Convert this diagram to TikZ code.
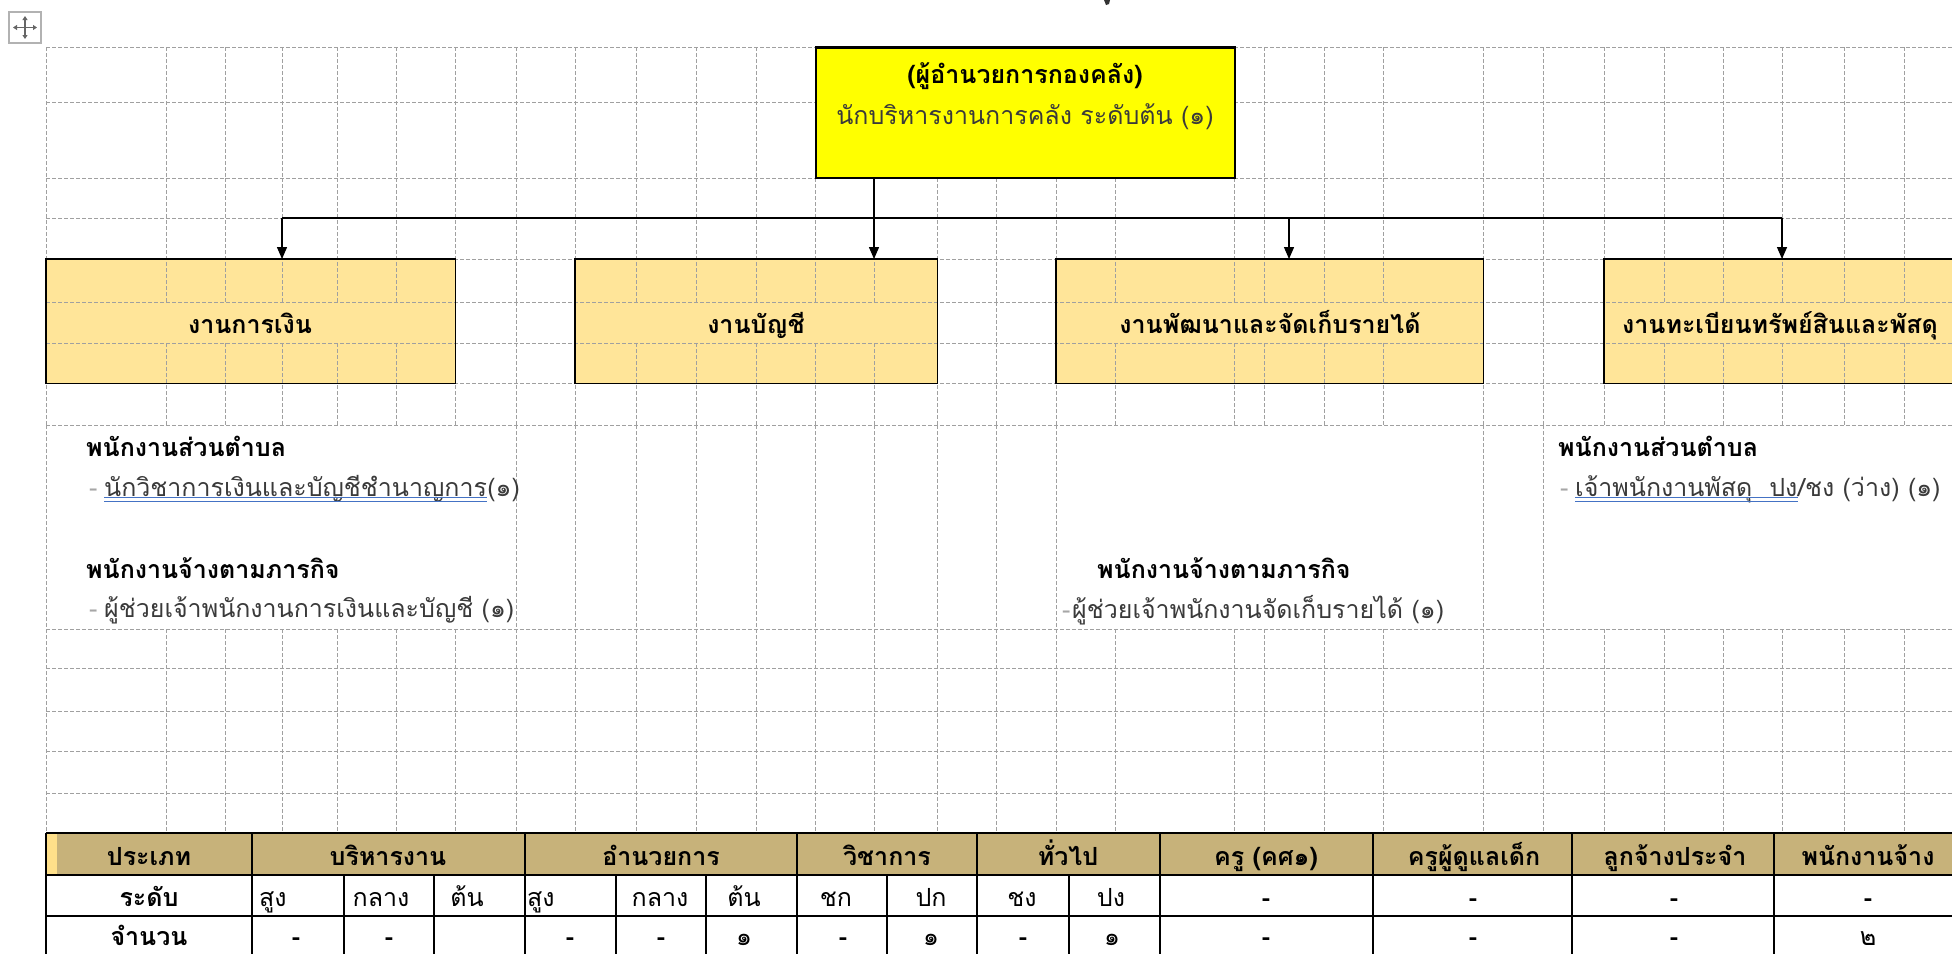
\documentclass[tikz,border=0pt]{standalone}
\usepackage{fontspec}
\setmainfont{Loma}[Script=Thai]
\usetikzlibrary{arrows.meta}
\definecolor{boxorange}{HTML}{FFE599}
\definecolor{topyellow}{RGB}{255,255,0}
\definecolor{gridgray}{HTML}{A0A0A0}
\definecolor{tanhead}{HTML}{C7B27A}
\definecolor{stripyellow}{HTML}{FFE08A}
\definecolor{tgray}{HTML}{3A3A3A}
\definecolor{lgray}{HTML}{A6A6A6}
\definecolor{ulblue}{HTML}{4472C4}
\newcommand\myfs{\fontsize{25pt}{29pt}\selectfont}
\tikzset{
  gridline/.style={draw=gridgray, line width=1pt, dash pattern=on 4pt off 2pt},
  unitfill/.style={fill=boxorange, draw=none, inner sep=0pt, anchor=north west},
  border/.style={draw=black, line width=1.5pt},
  link/.style={draw=black, line width=1.4pt},
  arr/.style={link, -{Triangle[length=12pt,width=10pt]}},
  lbl/.style={inner sep=0pt, font=\myfs, text=tgray},
  bld/.style={inner sep=0pt, font=\myfs\bfseries, text=black},
  tline/.style={draw=black, line width=1.3pt},
  ul/.style={draw=ulblue, line width=1pt},
  lastrow/.style={text depth=0pt},
}
\begin{document}
\begin{tikzpicture}[x=1pt,y=-1pt]
\useasboundingbox (0,0) rectangle (1952,954);
\clip (0,0) rectangle (1952,954);
\fill[white] (0,0) rectangle (1952,954);

% move icon
\draw[gray!60, line width=1.5pt, fill=white] (9,12) rectangle (41,43);
\draw[gray!80!black, line width=1.4pt, {Triangle[length=4pt,width=5pt]}-{Triangle[length=4pt,width=5pt]}] (13,27.5) -- (37,27.5);
\draw[gray!80!black, line width=1.4pt, {Triangle[length=4pt,width=5pt]}-{Triangle[length=4pt,width=5pt]}] (25,16) -- (25,39);

% page text fragment at top
\fill[black!80] (1104,0) -- (1110,0) -- (1109,4) -- (1106,5) -- cycle;

% unit box fills
\node[unitfill, minimum width=409pt, minimum height=124pt] (b1) at (46,259) {};
\node[unitfill, minimum width=362pt, minimum height=124pt] (b2) at (575,259) {};
\node[unitfill, minimum width=427pt, minimum height=124pt] (b3) at (1056,259) {};
\node[unitfill, minimum width=380pt, minimum height=124pt] (b4) at (1604,259) {};

% grid
\foreach \y in {47,102,178,218,259,302,343,383,425,629,668,711,751,793}
  \draw[gridline] (46,\y) -- (1952,\y);
\foreach \x in {46,166,225,282,337,396,455,516,575,636,696,756,815,1234,1264,1324,1383,1483,1543,1604,1664,1723,1782,1844,1904}
  \draw[gridline] (\x,47) -- (\x,178);
\foreach \x in {46,166,225,282,337,396,455,516,575,636,696,756,815,874,937,996,1056,1115,1234,1264,1324,1383,1483,1543,1604,1664,1723,1782,1844,1904}{
  \draw[gridline] (\x,178) -- (\x,302);
  \draw[gridline] (\x,343) -- (\x,425);
  \draw[gridline] (\x,629) -- (\x,833);
}
\foreach \x in {516,996,1543}
  \draw[gridline] (\x,302) -- (\x,343);
\foreach \x in {46,516,575,636,696,756,815,874,937,996,1056,1483,1543}
  \draw[gridline] (\x,425) -- (\x,629);

% unit box borders
\foreach \b in {b1,b2,b3,b4}
  \draw[border] (\b.north west) rectangle (\b.south east);

% top box
\node[fill=topyellow, draw=black, line width=1.5pt, inner sep=0pt, anchor=north west,
      minimum width=419pt, minimum height=130pt] (top) at (815,47) {};
\draw[line width=3pt] (top.north west) -- (top.north east);

% connectors
\coordinate (j1) at (282,218);
\coordinate (j2) at (874,218);
\coordinate (j3) at (1289,218);
\coordinate (j4) at (1782,218);
\draw[link] (j1) -- (j4);
\draw[arr] (j1) -- (j1 |- b1.north);
\draw[arr] (top.south -| j2) -- (j2 |- b2.north);
\draw[arr] (j3) -- (j3 |- b3.north);
\draw[arr] (j4) -- (j4 |- b4.north);

% top box text
\node[bld, anchor=base] (t1) at (1025,83) {(ผู้อำนวยการกองคลัง)};
\node[lbl, anchor=base] (t2) at (1025,124) {นักบริหารงานการคลัง ระดับต้น (๑)};

% unit box texts
\node[bld, anchor=base] (n1) at (250,333) {งานการเงิน};
\node[bld, anchor=base] (n2) at (756,333) {งานบัญชี};
\node[bld, anchor=base] (n3) at (1270,333) {งานพัฒนาและจัดเก็บรายได้};
\node[bld, anchor=base west] (n4) at (1622,333) {งานทะเบียนทรัพย์สินและพัสดุ};

% left block
\node[bld, anchor=base west] (l1) at (86,456) {พนักงานส่วนตำบล};
\node[lbl, anchor=base west, text=lgray] (l2d) at (89,496) {-};
\node[lbl, anchor=base west] (l2) at (104,496) {นักวิชาการเงินและบัญชีชำนาญการ};
\node[lbl, anchor=base west] (l2n) at (l2.base east) {(๑)};
\draw[ul] ([yshift=-1.5pt]l2.base west) -- ([yshift=-1.5pt]l2.base east);
\draw[ul] ([yshift=-5pt]l2.base west) -- ([yshift=-5pt]l2.base east);
\node[bld, anchor=base west] (l3) at (86,578) {พนักงานจ้างตามภารกิจ};
\node[lbl, anchor=base west, text=lgray] (l4d) at (89,617) {-};
\node[lbl, anchor=base west] (l4) at (104,617) {ผู้ช่วยเจ้าพนักงานการเงินและบัญชี (๑)};

% middle block
\node[bld, anchor=base west] (m1) at (1097,578) {พนักงานจ้างตามภารกิจ};
\node[lbl, anchor=base west, text=lgray] (m2d) at (1062,618) {-};
\node[lbl, anchor=base west] (m2) at (1072,618) {ผู้ช่วยเจ้าพนักงานจัดเก็บรายได้ (๑)};

% right block
\node[bld, anchor=base west] (r1) at (1558,456) {พนักงานส่วนตำบล};
\node[lbl, anchor=base west, text=lgray] (r2d) at (1560,496) {-};
\node[lbl, anchor=base west] (r2) at (1575,496) {เจ้าพนักงานพัสดุ\ \ ปง};
\node[lbl, anchor=base west] (r2n) at (r2.base east) {/ชง (ว่าง) (๑)};
\draw[ul] ([yshift=-1.5pt]r2.base west) -- ([yshift=-1.5pt]r2.base east);
\draw[ul] ([yshift=-5pt]r2.base west) -- ([yshift=-5pt]r2.base east);

% table
\fill[tanhead] (46,833) rectangle (1952,875);
\fill[stripyellow] (46,833) rectangle (57,875);
\foreach \y in {833,875,916}
  \draw[tline] (46,\y) -- (1952,\y);
\foreach \x in {46,252,525,797,977,1160,1373,1572,1774}
  \draw[tline] (\x,833) -- (\x,875);
\foreach \x in {46,252,344,434,525,616,706,797,887,977,1069,1160,1373,1572,1774}
  \draw[tline] (\x,875) -- (\x,954);

\node[bld, anchor=base] (h1) at (149,865) {ประเภท};
\node[bld, anchor=base] (h2) at (388,865) {บริหารงาน};
\node[bld, anchor=base] (h3) at (661,865) {อำนวยการ};
\node[bld, anchor=base] (h4) at (887,865) {วิชาการ};
\node[bld, anchor=base] (h5) at (1068,865) {ทั่วไป};
\node[bld, anchor=base] (h6) at (1266,865) {ครู (คศ๑)};
\node[bld, anchor=base] (h7) at (1474,865) {ครูผู้ดูแลเด็ก};
\node[bld, anchor=base] (h8) at (1675,865) {ลูกจ้างประจำ};
\node[bld, anchor=base] (h9) at (1868,865) {พนักงานจ้าง};

\node[bld, anchor=base] (r21) at (149,906) {ระดับ};
\node[lbl, text=black, anchor=base west] (r22) at (259,906) {สูง};
\node[lbl, text=black, anchor=base] (r23) at (381,906) {กลาง};
\node[lbl, text=black, anchor=base] (r24) at (467,906) {ต้น};
\node[lbl, text=black, anchor=base west] (r25) at (527,906) {สูง};
\node[lbl, text=black, anchor=base] (r26) at (660,906) {กลาง};
\node[lbl, text=black, anchor=base] (r27) at (744,906) {ต้น};
\node[lbl, text=black, anchor=base] (r28) at (836,906) {ชก};
\node[lbl, text=black, anchor=base] (r29) at (931,906) {ปก};
\node[lbl, text=black, anchor=base] (r210) at (1022,906) {ชง};
\node[lbl, text=black, anchor=base] (r211) at (1111,906) {ปง};
\node[bld, anchor=base] (r212) at (1266,906) {-};
\node[bld, anchor=base] (r213) at (1473,906) {-};
\node[bld, anchor=base] (r214) at (1674,906) {-};
\node[bld, anchor=base] (r215) at (1868,906) {-};

\node[bld, lastrow, anchor=base] (r31) at (149,945) {จำนวน};
\node[bld, lastrow, anchor=base] (r32) at (296,945) {-};
\node[bld, lastrow, anchor=base] (r33) at (389,945) {-};
\node[bld, lastrow, anchor=base] (r35) at (570,945) {-};
\node[bld, lastrow, anchor=base] (r36) at (661,945) {-};
\node[lbl, lastrow, text=black, anchor=base] (r37) at (744,945) {๑};
\node[bld, lastrow, anchor=base] (r38) at (843,945) {-};
\node[lbl, lastrow, text=black, anchor=base] (r39) at (931,945) {๑};
\node[bld, lastrow, anchor=base] (r310) at (1023,945) {-};
\node[lbl, lastrow, text=black, anchor=base] (r311) at (1112,945) {๑};
\node[bld, lastrow, anchor=base] (r312) at (1266,945) {-};
\node[bld, lastrow, anchor=base] (r313) at (1473,945) {-};
\node[bld, lastrow, anchor=base] (r314) at (1674,945) {-};
\node[lbl, lastrow, text=black, anchor=base] (r315) at (1868,945) {๒};
\end{tikzpicture}
\end{document}
